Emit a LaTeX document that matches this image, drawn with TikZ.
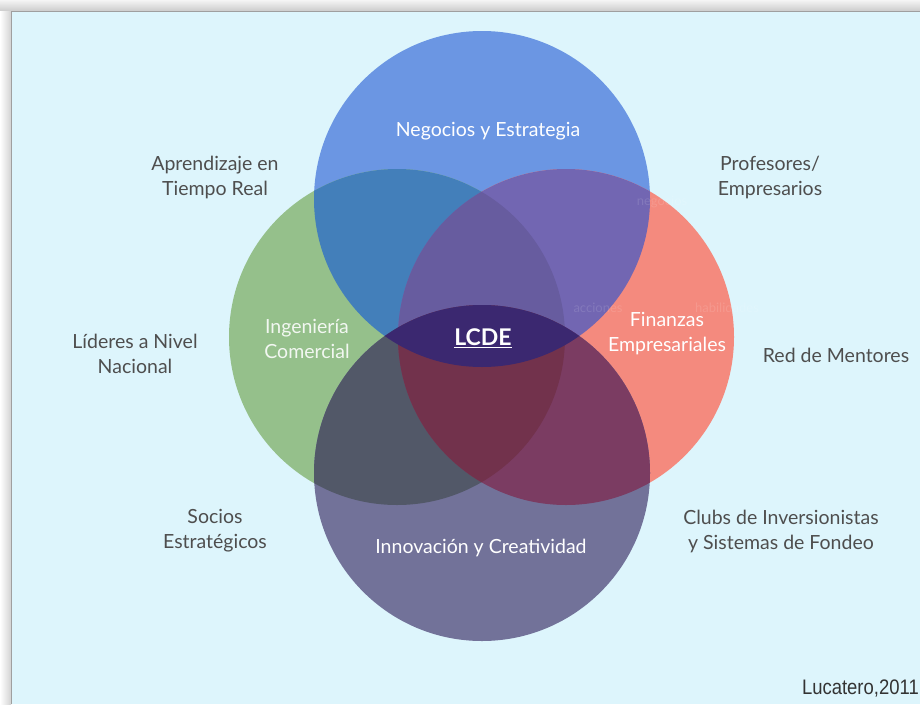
\documentclass[tikz,border=0pt]{standalone}
\usepackage{fontspec}
\setmainfont{Lato}
\newfontfamily\creditfont{Liberation Sans}

\definecolor{pagebg}{HTML}{DDF5FC}
\definecolor{negocios}{HTML}{6B96E3}
\definecolor{ingenieria}{HTML}{95C08B}
\definecolor{finanzas}{HTML}{F48A7E}
\definecolor{innovacion}{HTML}{727299}
\definecolor{negIng}{HTML}{437FBA}
\definecolor{negFin}{HTML}{7266B2}
\definecolor{negIngFin}{HTML}{675C9F}
\definecolor{innIng}{HTML}{525868}
\definecolor{innFin}{HTML}{7B3C62}
\definecolor{innIngFin}{HTML}{72324C}
\definecolor{core}{HTML}{3B2870}
\definecolor{labelgray}{HTML}{4E4E4E}

\tikzset{
  outer/.style={align=center, text=labelgray, font=\fontsize{19.5}{25}\selectfont},
  area/.style={align=center, text=white, font=\fontsize{19.5}{25}\selectfont},
  ghost/.style={text=white, opacity=.12, font=\fontsize{13}{15}\selectfont},
}

\begin{document}
\begin{tikzpicture}[x=1pt, y=-1pt]
\useasboundingbox (0,0) rectangle (920,704);
% page with its shadow
\fill[white] (0,0) rectangle (920,704);
\shade[top color=gray!8, bottom color=gray!40] (0,0) rectangle (920,11);
\shade[left color=white, right color=gray!35] (0,11) rectangle (11,704);
\fill[pagebg] (12,12) rectangle (920,704);
\draw[gray!75, line width=.8pt] (11.5,704) -- (11.5,11.5) -- (920,11.5);

\coordinate (neg) at (482,199);
\coordinate (ing) at (397,337);
\coordinate (fin) at (566,337);
\coordinate (inn) at (482,473);
\def\rad{168pt}

% the four circles
\fill[negocios] (neg) circle[radius=\rad];
\fill[ingenieria] (ing) circle[radius=\rad];
\fill[finanzas] (fin) circle[radius=\rad];
\fill[innovacion] (inn) circle[radius=\rad];

% overlaps
\begin{scope}
  \clip (ing) circle[radius=\rad];
  \fill[negIng] (neg) circle[radius=\rad];
  \fill[innIng] (inn) circle[radius=\rad];
\end{scope}
\begin{scope}
  \clip (fin) circle[radius=\rad];
  \fill[negFin] (neg) circle[radius=\rad];
  \fill[innFin] (inn) circle[radius=\rad];
  \clip (ing) circle[radius=\rad];
  \fill[negIngFin] (neg) circle[radius=\rad];
  \fill[innIngFin] (inn) circle[radius=\rad];
\end{scope}
\begin{scope}
  \clip (neg) circle[radius=\rad];
  \fill[core] (inn) circle[radius=\rad];
\end{scope}

% faint leftover words
\node[ghost] (g1) at (662,202) {negocios};
\node[ghost] (g2) at (598,308) {acciones};
\node[ghost] (g3) at (727,308) {habilidades};

% circle labels
\node[area] (tNeg) at (488,131) {Negocios y Estrategia};
\node[area, text=white!88!ingenieria] (tIng) at (307,339) {Ingeniería\\Comercial};
\node[area] (tFin) at (667,334) {Finanzas\\Empresariales};
\node[area] (tInn) at (481,548) {Innovación y Creatividad};
\node[text=white, font=\fontsize{23}{26}\selectfont\bfseries] (lcde) at (483,338) {\underline{LCDE}};

% surrounding labels
\node[outer] (aprend) at (215,177) {Aprendizaje en\\Tiempo Real};
\node[outer] (prof) at (770,177) {Profesores/\\Empresarios};
\node[outer] (lider) at (135,354) {Líderes a Nivel\\Nacional};
\node[outer] (red) at (836,355) {Red de Mentores};
\node[outer] (socios) at (215,531) {Socios\\Estratégicos};
\node[outer] (clubs) at (781,531) {Clubs de Inversionistas\\y Sistemas de Fondeo};

\node[anchor=east, inner sep=0pt, text=black!80, font=\creditfont\fontsize{21}{24}\selectfont] (autor) at (919,689)
  {\scalebox{.88}[1]{Lucatero,2011}};
\end{tikzpicture}
\end{document}
